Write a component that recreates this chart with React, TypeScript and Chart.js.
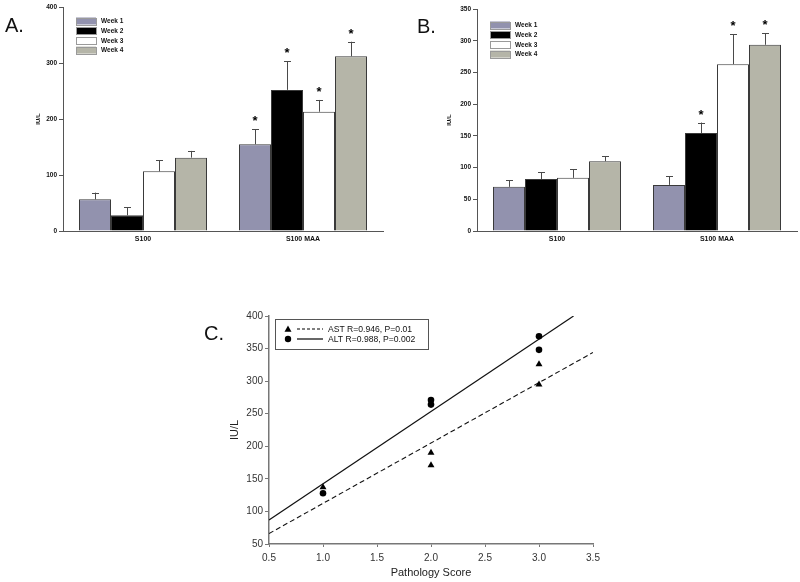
import React, { useEffect, useRef } from 'react';
import { Chart, registerables } from 'chart.js';

Chart.register(...registerables);

const FONT = '"Liberation Sans", Arial, Helvetica, sans-serif';

// ---------- Panel A / B data ----------
const categories = ['S100', 'S100 MAA'];
const weekLabels = ['Week 1', 'Week 2', 'Week 3', 'Week 4'];
const weekColors = ['#9292ae', '#000000', '#ffffff', '#b5b5a8'];

const aWeek1 = [56.5, 155];
const aWeek2 = [28, 252];
const aWeek3 = [106.5, 213];
const aWeek4 = [131, 312];
const aErr1 = [12, 27];
const aErr2 = [14, 51];
const aErr3 = [20, 21];
const aErr4 = [12, 26];
const aStar1 = [false, true];
const aStar2 = [false, true];
const aStar3 = [false, true];
const aStar4 = [false, true];
const aTicks = [0, 100, 200, 300, 400];

const bWeek1 = [69.6, 72.7];
const bWeek2 = [82, 154.5];
const bWeek3 = [83.8, 263];
const bWeek4 = [110, 293.6];
const bErr1 = [10.4, 13.8];
const bErr2 = [10.8, 16.5];
const bErr3 = [13.7, 47.5];
const bErr4 = [7.5, 18];
const bStar1 = [false, false];
const bStar2 = [false, true];
const bStar3 = [false, true];
const bStar4 = [false, true];
const bTicks = [0, 50, 100, 150, 200, 250, 300, 350];

// ---------- Panel C data ----------
const astPoints = [
  { x: 1, y: 137 },
  { x: 2, y: 190 },
  { x: 2, y: 171 },
  { x: 3, y: 326 },
  { x: 3, y: 295 },
];
const altPoints = [
  { x: 1, y: 128 },
  { x: 2, y: 271 },
  { x: 2, y: 264 },
  { x: 3, y: 369 },
  { x: 3, y: 348 },
];
const astFit = [
  { x: 0.5, y: 66 },
  { x: 3.5, y: 344 },
];
const altFit = [
  { x: 0.5, y: 87 },
  { x: 3.32, y: 400 },
];
const cLegendLabels = ['AST R=0.946, P=0.01', 'ALT R=0.988, P=0.002'];
const cYTicks = [50, 100, 150, 200, 250, 300, 350, 400];
const cXTicks = [0.5, 1.0, 1.5, 2.0, 2.5, 3.0, 3.5];

// ---------- plugins ----------
const errorBarPlugin = {
  id: 'errorBars',
  afterDatasetsDraw(chart: any) {
    const { ctx } = chart;
    const y = chart.scales.y;
    ctx.save();
    chart.data.datasets.forEach((ds: any, i: number) => {
      const meta = chart.getDatasetMeta(i);
      meta.data.forEach((el: any, j: number) => {
        const v = ds.data[j];
        const e = ds.errors[j];
        const top = y.getPixelForValue(v + e);
        const x = Math.round(el.x) + 0.5;
        ctx.strokeStyle = '#4a4a4a';
        ctx.lineWidth = 1;
        ctx.beginPath();
        ctx.moveTo(x, el.y);
        ctx.lineTo(x, top);
        ctx.moveTo(x - 3.5, Math.round(top) + 0.5);
        ctx.lineTo(x + 3.5, Math.round(top) + 0.5);
        ctx.stroke();
        if (ds.stars[j]) {
          ctx.fillStyle = '#000';
          ctx.font = `bold 13px ${FONT}`;
          ctx.textAlign = 'center';
          ctx.textBaseline = 'alphabetic';
          ctx.fillText('*', el.x, top - 4);
        }
      });
    });
    ctx.restore();
  },
};

const barLegendPlugin = {
  id: 'barLegend',
  afterDraw(chart: any, _args: any, opts: any) {
    const { ctx } = chart;
    ctx.save();
    chart.data.datasets.forEach((ds: any, i: number) => {
      const cy = opts.y0 + i * opts.dy;
      ctx.fillStyle = ds.backgroundColor;
      ctx.fillRect(opts.x, cy - opts.h / 2, opts.w, opts.h);
      ctx.strokeStyle = '#9a9a9a';
      ctx.lineWidth = 1;
      ctx.strokeRect(opts.x + 0.5, Math.round(cy - opts.h / 2) + 0.5, opts.w, opts.h);
      ctx.fillStyle = '#111';
      ctx.font = `bold ${opts.fontSize}px ${FONT}`;
      ctx.textAlign = 'left';
      ctx.textBaseline = 'middle';
      ctx.fillText(ds.label, opts.textX, cy + 0.5);
    });
    ctx.restore();
  },
};

const scatterLegendPlugin = {
  id: 'scatterLegend',
  afterDraw(chart: any, _args: any, opts: any) {
    const { ctx } = chart;
    ctx.save();
    ctx.strokeStyle = '#555';
    ctx.lineWidth = 1;
    ctx.strokeRect(opts.x + 0.5, opts.y + 0.5, opts.w, opts.h);
    const entries = opts.entries;
    entries.forEach((en: any, i: number) => {
      const cy = opts.y + opts.rowTop + i * opts.dy;
      ctx.fillStyle = '#000';
      ctx.beginPath();
      if (en.marker === 'triangle') {
        const r = 3.5;
        ctx.moveTo(opts.markerX, cy - r);
        ctx.lineTo(opts.markerX + r, cy + r * 0.75);
        ctx.lineTo(opts.markerX - r, cy + r * 0.75);
        ctx.closePath();
      } else {
        ctx.arc(opts.markerX, cy, 3.2, 0, Math.PI * 2);
      }
      ctx.fill();
      ctx.strokeStyle = '#000';
      ctx.lineWidth = 1.2;
      ctx.setLineDash(en.dash);
      ctx.beginPath();
      ctx.moveTo(opts.lineX0, cy);
      ctx.lineTo(opts.lineX1, cy);
      ctx.stroke();
      ctx.setLineDash([]);
      ctx.fillStyle = '#111';
      ctx.font = `${opts.fontSize}px ${FONT}`;
      ctx.textAlign = 'left';
      ctx.textBaseline = 'middle';
      ctx.fillText(en.label, opts.textX, cy + 0.5);
    });
    ctx.restore();
  },
};

// ---------- chart builders ----------
function barConfig(
  means: number[][],
  errs: number[][],
  stars: boolean[][],
  ticks: number[],
  yMax: number,
  yStep: number,
  padLeft: number,
  padTop: number,
  padRight: number,
  yWidth: number,
  legendX: number,
  legendY0: number,
  legendDy: number
): any {
  return {
    type: 'bar',
    data: {
      labels: categories,
      datasets: weekLabels.map((lab, i) => ({
        label: lab,
        data: means[i],
        errors: errs[i],
        stars: stars[i],
        backgroundColor: weekColors[i],
        borderColor: '#3a3a3a',
        borderWidth: 1,
        categoryPercentage: 0.8,
        barPercentage: 1.0,
      })),
    },
    options: {
      responsive: false,
      animation: false,
      devicePixelRatio: 1,
      events: [],
      layout: { padding: { left: padLeft, top: padTop, right: padRight, bottom: 0 } },
      plugins: {
        legend: { display: false },
        tooltip: { enabled: false },
        barLegend: {
          x: legendX,
          y0: legendY0,
          dy: legendDy,
          w: 20,
          h: 7,
          textX: legendX + 25,
          fontSize: 6.5,
        },
      },
      scales: {
        x: {
          type: 'category',
          offset: true,
          grid: { display: false, drawTicks: false },
          border: { display: true, color: '#555', width: 1 },
          ticks: { font: { family: FONT, size: 7, weight: 'bold' }, color: '#111', padding: 4 },
          afterFit: (s: any) => {
            s.height = 29;
          },
        },
        y: {
          min: 0,
          max: yMax,
          afterBuildTicks: (s: any) => {
            s.ticks = ticks.map((v) => ({ value: v }));
          },
          ticks: { stepSize: yStep, font: { family: FONT, size: 6.5, weight: 'bold' }, color: '#111', padding: 2 },
          grid: { drawOnChartArea: false, drawTicks: true, tickLength: 4, color: '#555' },
          border: { display: true, color: '#555', width: 1 },
          title: {
            display: true,
            text: 'IU/L',
            font: { family: FONT, size: 6, weight: 'bold' },
            color: '#111',
            padding: 0,
          },
          afterFit: (s: any) => {
            s.width = yWidth;
          },
        },
      },
    },
    plugins: [errorBarPlugin, barLegendPlugin],
  };
}

function scatterConfig(): any {
  return {
    type: 'scatter',
    data: {
      datasets: [
        {
          label: 'AST points',
          data: astPoints,
          pointStyle: 'triangle',
          pointRadius: 4,
          backgroundColor: '#000',
          borderColor: '#000',
          borderWidth: 0,
        },
        {
          label: 'ALT points',
          data: altPoints,
          pointStyle: 'circle',
          pointRadius: 3.3,
          backgroundColor: '#000',
          borderColor: '#000',
          borderWidth: 0,
        },
        {
          label: cLegendLabels[0],
          data: astFit,
          showLine: true,
          pointRadius: 0,
          borderColor: '#111',
          borderWidth: 1.1,
          borderDash: [5, 3],
        },
        {
          label: cLegendLabels[1],
          data: altFit,
          showLine: true,
          pointRadius: 0,
          borderColor: '#111',
          borderWidth: 1.2,
        },
      ],
    },
    options: {
      responsive: false,
      animation: false,
      devicePixelRatio: 1,
      events: [],
      layout: { padding: { left: 28, top: 26, right: 27, bottom: 0 } },
      plugins: {
        legend: { display: false },
        tooltip: { enabled: false },
        scatterLegend: {
          x: 75,
          y: 29,
          w: 153,
          h: 30,
          rowTop: 10,
          dy: 10,
          markerX: 88,
          lineX0: 97,
          lineX1: 123,
          textX: 128,
          fontSize: 8.6,
          entries: [
            { marker: 'triangle', dash: [3, 2], label: cLegendLabels[0] },
            { marker: 'circle', dash: [], label: cLegendLabels[1] },
          ],
        },
      },
      scales: {
        x: {
          type: 'linear',
          min: 0.5,
          max: 3.5,
          afterBuildTicks: (s: any) => {
            s.ticks = cXTicks.map((v) => ({ value: v }));
          },
          ticks: {
            font: { family: FONT, size: 10 },
            color: '#333',
            padding: 5,
            callback: (v: any) => Number(v).toFixed(1),
          },
          grid: { drawOnChartArea: false, drawTicks: true, tickLength: 3, color: '#777' },
          border: { display: true, color: '#777', width: 1.5 },
          title: {
            display: true,
            text: 'Pathology Score',
            font: { family: FONT, size: 11 },
            color: '#222',
            padding: { top: 0, bottom: 2 },
          },
          afterFit: (s: any) => {
            s.height = 38;
          },
        },
        y: {
          type: 'linear',
          min: 50,
          max: 400,
          afterBuildTicks: (s: any) => {
            s.ticks = cYTicks.map((v) => ({ value: v }));
          },
          ticks: { font: { family: FONT, size: 10 }, color: '#333', padding: 2 },
          grid: { drawOnChartArea: false, drawTicks: true, tickLength: 4, color: '#777' },
          border: { display: true, color: '#777', width: 1.5 },
          title: {
            display: true,
            text: 'IU/L',
            font: { family: FONT, size: 11 },
            color: '#222',
            padding: 0,
          },
          afterFit: (s: any) => {
            s.width = 41;
          },
        },
      },
    },
    plugins: [scatterLegendPlugin],
  };
}

function ChartCanvas(props: { config: () => any; left: number; top: number; width: number; height: number }) {
  const ref = useRef<HTMLCanvasElement | null>(null);
  useEffect(() => {
    if (!ref.current) return;
    const chart = new Chart(ref.current, props.config());
    return () => chart.destroy();
  }, []);
  return (
    <canvas
      ref={ref}
      width={props.width}
      height={props.height}
      style={{
        position: 'absolute',
        left: props.left,
        top: props.top,
        width: props.width,
        height: props.height,
      }}
    />
  );
}

const panelLabelStyle = (left: number, top: number): React.CSSProperties => ({
  position: 'absolute',
  left,
  top,
  fontFamily: FONT,
  fontSize: 20,
  lineHeight: 1,
  color: '#111',
});

export default function App() {
  return (
    <div
      style={{
        position: 'fixed',
        left: 0,
        top: 0,
        width: 800,
        height: 582,
        background: '#fff',
        overflow: 'hidden',
      }}
    >
      <ChartCanvas
        left={0}
        top={0}
        width={400}
        height={260}
        config={() =>
          barConfig(
            [aWeek1, aWeek2, aWeek3, aWeek4],
            [aErr1, aErr2, aErr3, aErr4],
            [aStar1, aStar2, aStar3, aStar4],
            aTicks,
            400,
            100,
            35,
            7,
            17,
            28,
            76,
            21,
            9.7
          )
        }
      />
      <ChartCanvas
        left={400}
        top={0}
        width={400}
        height={260}
        config={() =>
          barConfig(
            [bWeek1, bWeek2, bWeek3, bWeek4],
            [bErr1, bErr2, bErr3, bErr4],
            [bStar1, bStar2, bStar3, bStar4],
            bTicks,
            350,
            50,
            46,
            9,
            3,
            31,
            90,
            25,
            9.7
          )
        }
      />
      <ChartCanvas left={200} top={290} width={420} height={292} config={scatterConfig} />
      <div style={panelLabelStyle(5, 15)}>A.</div>
      <div style={panelLabelStyle(417, 16)}>B.</div>
      <div style={panelLabelStyle(204, 323)}>C.</div>
    </div>
  );
}
